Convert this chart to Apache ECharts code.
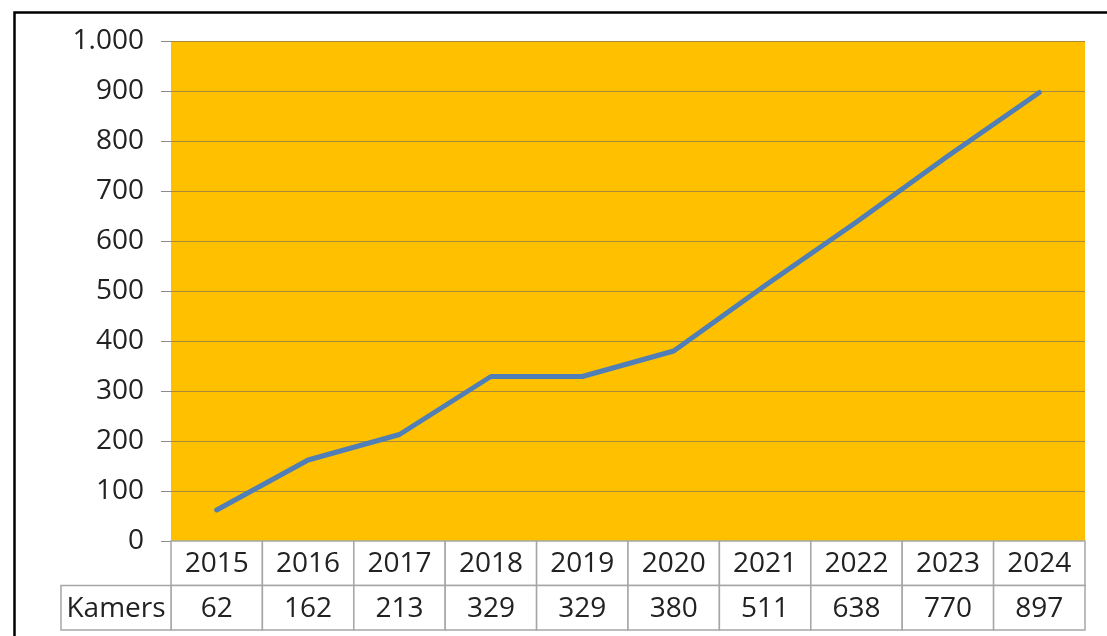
<!DOCTYPE html>
<html>
<head>
<meta charset="utf-8">
<script src="https://cdn.jsdelivr.net/npm/echarts@6/dist/echarts.min.js"></script>
<style>
  html, body { margin: 0; padding: 0; background: #fff; }
  #chart { width: 1107px; height: 636px; }
</style>
</head>
<body>
<div id="chart"></div>
<script>
// Jaren en aantal kamers per jaar
const years = ['2015', '2016', '2017', '2018', '2019', '2020', '2021', '2022', '2023', '2024'];
const kamers = [62, 162, 213, 329, 329, 380, 511, 638, 770, 897];
const rowLabel = 'Kamers';
const yMax = 1000;
const yStep = 100;

const FONT = 'Open Sans';
const TEXT = '#222';
const BORDER = '#a6a6a6';

// table cells: [column, row, text]; row 0 = years, row 1 = values
const cells = [];
years.forEach((y, i) => cells.push([i, 0, y]));
kamers.forEach((v, i) => cells.push([i, 1, String(v)]));

const fmtThousands = v => String(v).replace(/\B(?=(\d{3})+(?!\d))/g, '.');

const chart = echarts.init(document.getElementById('chart'), null, { renderer: 'canvas' });

const HEADER_W = 110;

chart.setOption({
  animation: false,
  backgroundColor: '#fff',
  textStyle: { fontFamily: FONT },
  grid: [
    { left: 171, top: 41, width: 914, height: 500, backgroundColor: '#FFC000', show: true, borderWidth: 0 },
    { left: 171, top: 541, width: 914, height: 89, show: false }
  ],
  xAxis: [
    {
      gridIndex: 0, type: 'category', data: years, boundaryGap: true,
      axisLine: { show: false }, axisTick: { show: false }, axisLabel: { show: false }
    },
    {
      gridIndex: 1, type: 'category', data: years, boundaryGap: true, show: false
    }
  ],
  yAxis: [
    {
      gridIndex: 0, type: 'value', min: 0, max: yMax, interval: yStep,
      axisLine: { show: false },
      axisTick: { show: true, length: 10, lineStyle: { color: '#8c8c8c', width: 1 } },
      axisLabel: {
        margin: 27, fontSize: 28, color: TEXT, fontFamily: FONT,
        formatter: fmtThousands
      },
      splitLine: { show: true, lineStyle: { color: '#a88a3a', width: 1.2 } }
    },
    {
      gridIndex: 1, type: 'category', data: ['jaar', rowLabel], inverse: true, show: false
    }
  ],
  series: [
    {
      type: 'line',
      xAxisIndex: 0, yAxisIndex: 0,
      data: kamers,
      symbol: 'none',
      lineStyle: { color: '#4f7fb6', width: 5, cap: 'round', join: 'round' },
      z: 5
    },
    {
      type: 'custom',
      xAxisIndex: 1, yAxisIndex: 1,
      data: cells,
      renderItem: function (params, api) {
        const c = api.coord([api.value(0), api.value(1)]);
        const s = api.size([1, 1]);
        const x = c[0] - s[0] / 2, y = c[1] - s[1] / 2;
        const children = [
          {
            type: 'rect',
            shape: { x: x, y: y, width: s[0], height: s[1] },
            style: { fill: '#fff', stroke: BORDER, lineWidth: 1.5 }
          },
          {
            type: 'text',
            style: {
              x: c[0], y: c[1] + 1, text: api.value(2),
              fill: TEXT, font: '28px "' + FONT + '"',
              textAlign: 'center', textVerticalAlign: 'middle'
            }
          }
        ];
        // row header cell to the left of the first value
        if (api.value(0) === 0 && api.value(1) === 1) {
          children.push({
            type: 'rect',
            shape: { x: x - HEADER_W, y: y, width: HEADER_W, height: s[1] },
            style: { fill: '#fff', stroke: BORDER, lineWidth: 1.5 }
          });
          children.push({
            type: 'text',
            style: {
              x: x - HEADER_W / 2, y: c[1] + 1, text: rowLabel,
              fill: TEXT, font: '28px "' + FONT + '"',
              textAlign: 'center', textVerticalAlign: 'middle'
            }
          });
        }
        return { type: 'group', children: children };
      }
    }
  ],
  graphic: [
    {
      type: 'rect', left: 12, top: 10, silent: true, z: 100,
      shape: { width: 1200, height: 700 },
      style: { fill: 'none', stroke: '#000', lineWidth: 2.5 }
    }
  ]
});
</script>
</body>
</html>
